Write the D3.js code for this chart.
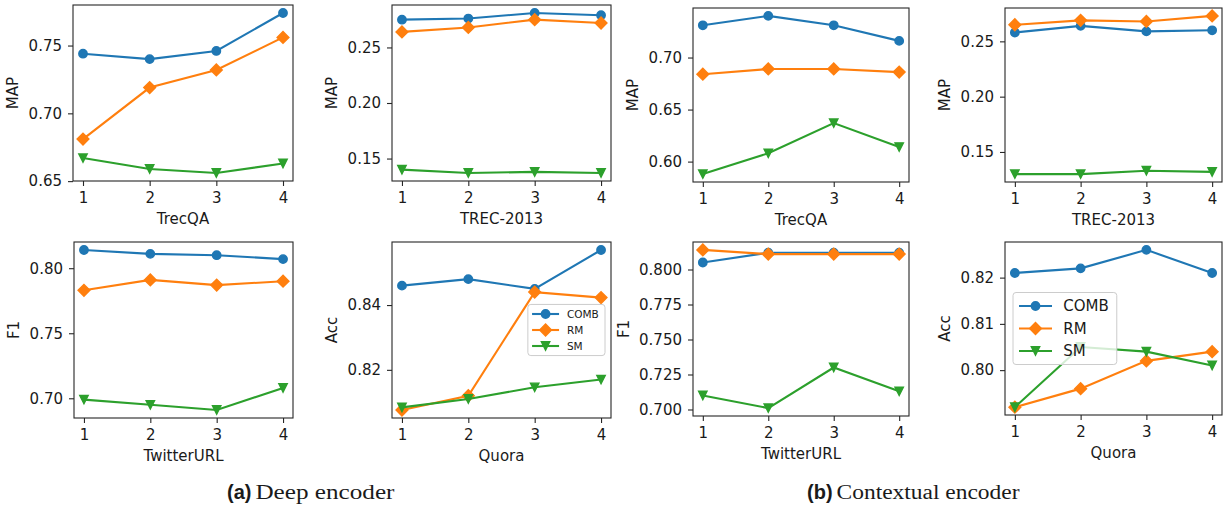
<!DOCTYPE html>
<html>
<head>
<meta charset="utf-8">
<script src="https://cdn.jsdelivr.net/npm/d3@7"></script>
<style>
  body { margin: 0; background: #fff; }
  svg text { font-family: "DejaVu Sans", sans-serif; fill: #1a1a1a; }
  .caption-bold { font-family: "Liberation Sans", Arial, sans-serif; font-weight: bold; }
  .caption-serif { font-family: "Liberation Serif", "Times New Roman", serif; }
</style>
</head>
<body>
<svg id="chart" width="1226" height="507"></svg>
<script>
var xs = [1, 2, 3, 4];
var seriesNames = ["COMB", "RM", "SM"];
var COLORS = { COMB: "#1f77b4", RM: "#ff7f0e", SM: "#2ca02c" };

// values per panel: [COMB, RM, SM]
var deepTrecQA   = [[0.744, 0.740, 0.746, 0.774], [0.681, 0.719, 0.732, 0.756], [0.667, 0.659, 0.656, 0.663]];
var deepTrec2013 = [[0.275, 0.276, 0.281, 0.279], [0.264, 0.268, 0.275, 0.272], [0.140, 0.137, 0.138, 0.137]];
var ctxTrecQA    = [[0.731, 0.740, 0.731, 0.716], [0.684, 0.689, 0.689, 0.686], [0.588, 0.608, 0.637, 0.614]];
var ctxTrec2013  = [[0.258, 0.264, 0.259, 0.260], [0.265, 0.269, 0.268, 0.273], [0.130, 0.130, 0.133, 0.132]];
var deepTwitter  = [[0.814, 0.811, 0.810, 0.807], [0.783, 0.791, 0.787, 0.790], [0.699, 0.695, 0.691, 0.708]];
var deepQuora    = [[0.846, 0.848, 0.845, 0.857], [0.8076, 0.812, 0.844, 0.8423], [0.8084, 0.811, 0.8146, 0.817]];
var ctxTwitter   = [[0.805, 0.812, 0.812, 0.812], [0.814, 0.811, 0.811, 0.811], [0.710, 0.701, 0.730, 0.713]];
var ctxQuora     = [[0.821, 0.822, 0.826, 0.821], [0.792, 0.796, 0.802, 0.804], [0.792, 0.805, 0.804, 0.801]];

var ticksMAP1 = [0.65, 0.70, 0.75];
var ticksMAP2 = [0.15, 0.20, 0.25];
var ticksMAP3 = [0.60, 0.65, 0.70];
var ticksF1a  = [0.70, 0.75, 0.80];
var ticksAcc1 = [0.82, 0.84];
var ticksF1b  = [0.700, 0.725, 0.750, 0.775, 0.800];
var ticksAcc2 = [0.80, 0.81, 0.82];

var panels = [
  { data: deepTrecQA,   ylab: "MAP", xlab: "TrecQA",     ticks: ticksMAP1, fmt: ".2f", box: [73, 5, 293, 181] },
  { data: deepTrec2013, ylab: "MAP", xlab: "TREC-2013",  ticks: ticksMAP2, fmt: ".2f", box: [392, 5, 611, 181] },
  { data: ctxTrecQA,    ylab: "MAP", xlab: "TrecQA",     ticks: ticksMAP3, fmt: ".2f", box: [693, 8, 909, 182] },
  { data: ctxTrec2013,  ylab: "MAP", xlab: "TREC-2013",  ticks: ticksMAP2, fmt: ".2f", box: [1005, 8, 1222, 182] },
  { data: deepTwitter,  ylab: "F1",  xlab: "TwitterURL", ticks: ticksF1a,  fmt: ".2f", box: [74, 242, 293, 418] },
  { data: deepQuora,    ylab: "Acc", xlab: "Quora",      ticks: ticksAcc1, fmt: ".2f", box: [392, 242, 611, 418],
    legend: { loc: "right", size: 10.5, handle: 27, gap: 16 } },
  { data: ctxTwitter,   ylab: "F1",  xlab: "TwitterURL", ticks: ticksF1b,  fmt: ".3f", box: [693, 242, 909, 416] },
  { data: ctxQuora,     ylab: "Acc", xlab: "Quora",      ticks: ticksAcc2, fmt: ".2f", box: [1005, 242, 1222, 415],
    legend: { loc: "left", size: 15, handle: 33, gap: 22.5 } }
];

var svg = d3.select("#chart");

function marker(g, name, color) {
  if (name === "COMB") {
    g.append("circle").attr("r", 4.2);
  } else if (name === "RM") {
    g.append("path").attr("d", "M0,-5.9L5.9,0L0,5.9L-5.9,0Z");
  } else {
    g.append("path").attr("d", "M0,4.2L-4.2,-4.2L4.2,-4.2Z");
  }
  g.selectAll("*").attr("fill", color).attr("stroke", color).attr("stroke-width", 1.4);
}

function drawPanel(p) {
  var x0 = p.box[0], y0 = p.box[1], x1 = p.box[2], y1 = p.box[3];
  var all = d3.merge(p.data);
  var ext = d3.extent(all);
  var pad = (ext[1] - ext[0]) * 0.05;

  var xScale = d3.scaleLinear().domain([0.85, 4.15]).range([x0, x1]);
  var yScale = d3.scaleLinear().domain([ext[0] - pad, ext[1] + pad]).range([y1, y0]);

  var g = svg.append("g");

  var xAxis = g.append("g")
    .attr("transform", "translate(0," + y1 + ")")
    .call(d3.axisBottom(xScale).tickValues(xs).tickFormat(d3.format("d")).tickSize(5).tickPadding(6.3));
  var yAxis = g.append("g")
    .attr("transform", "translate(" + x0 + ",0)")
    .call(d3.axisLeft(yScale).tickValues(p.ticks).tickFormat(d3.format(p.fmt)).tickSize(5).tickPadding(6));

  [xAxis, yAxis].forEach(function(a) {
    a.select(".domain").remove();
    a.selectAll("line").attr("stroke", "#262626").attr("stroke-width", 1.1);
    a.selectAll("text").attr("font-size", 15).attr("font-family", "DejaVu Sans").attr("fill", "#1a1a1a");
  });

  var maxW = 0;
  yAxis.selectAll("text").each(function() { maxW = Math.max(maxW, this.getComputedTextLength()); });

  // series lines and markers
  p.data.forEach(function(vals, i) {
    var name = seriesNames[i];
    var pts = vals.map(function(v, j) { return [xs[j], v]; });
    g.append("path")
      .datum(pts)
      .attr("fill", "none")
      .attr("stroke", COLORS[name])
      .attr("stroke-width", 2.1)
      .attr("d", d3.line().x(function(d) { return xScale(d[0]); }).y(function(d) { return yScale(d[1]); }));
    pts.forEach(function(d) {
      var m = g.append("g").attr("transform", "translate(" + xScale(d[0]) + "," + yScale(d[1]) + ")");
      marker(m, name, COLORS[name]);
    });
  });

  // frame
  g.append("rect")
    .attr("x", x0).attr("y", y0)
    .attr("width", x1 - x0).attr("height", y1 - y0)
    .attr("fill", "none").attr("stroke", "#262626").attr("stroke-width", 1.1);

  // axis labels
  g.append("text")
    .attr("x", (x0 + x1) / 2).attr("y", y1 + 43)
    .attr("text-anchor", "middle").attr("font-size", 15)
    .text(p.xlab);

  var lx = x0 - 11 - maxW - 16 + 5.5;
  g.append("text")
    .attr("transform", "translate(" + lx + "," + ((y0 + y1) / 2) + ") rotate(-90)")
    .attr("text-anchor", "middle").attr("font-size", 15)
    .text(p.ylab);

  if (p.legend) drawLegend(g, p);
}

function drawLegend(g, p) {
  var L = p.legend;
  var x0 = p.box[0], y0 = p.box[1], x1 = p.box[2], y1 = p.box[3];
  var textW = 0;
  var tmp = g.append("text").attr("font-size", L.size).text("COMB");
  textW = tmp.node().getComputedTextLength();
  tmp.remove();

  var padX = L.size * 0.4;
  var w = padX + L.handle + L.size * 0.75 + textW + padX + 2;
  var h = L.gap * 3 + L.size * 0.3;
  var bx = L.loc === "right" ? x1 - 6 - w : x0 + 8;
  var by = (y0 + y1) / 2 - h / 2;

  var lg = g.append("g");
  lg.append("rect")
    .attr("x", bx).attr("y", by).attr("width", w).attr("height", h)
    .attr("rx", 3).attr("ry", 3)
    .attr("fill", "#fff").attr("fill-opacity", 0.8)
    .attr("stroke", "#cccccc").attr("stroke-width", 1);

  seriesNames.forEach(function(name, i) {
    var cy = by + L.size * 0.15 + L.gap * (i + 0.5);
    var hx = bx + padX;
    lg.append("line")
      .attr("x1", hx).attr("x2", hx + L.handle)
      .attr("y1", cy).attr("y2", cy)
      .attr("stroke", COLORS[name]).attr("stroke-width", 2.1);
    var m = lg.append("g").attr("transform", "translate(" + (hx + L.handle / 2) + "," + cy + ")");
    marker(m, name, COLORS[name]);
    lg.append("text")
      .attr("x", hx + L.handle + L.size * 0.75)
      .attr("y", cy + L.size * 0.36)
      .attr("font-size", L.size)
      .text(name);
  });
}

panels.forEach(drawPanel);

// captions
var captions = [
  { tag: "(a)", text: "Deep encoder", x: 227, width: 139 },
  { tag: "(b)", text: "Contextual encoder", x: 807, width: 183 }
];
captions.forEach(function(c) {
  var t = svg.append("text")
    .attr("class", "caption-bold")
    .attr("x", c.x).attr("y", 499)
    .attr("font-size", 20)
    .text(c.tag);
  var tw = t.node().getComputedTextLength();
  svg.append("text")
    .attr("class", "caption-serif")
    .attr("x", c.x + tw + 4).attr("y", 499)
    .attr("font-size", 20)
    .attr("textLength", c.width)
    .attr("lengthAdjust", "spacingAndGlyphs")
    .text(c.text);
});
</script>
</body>
</html>
